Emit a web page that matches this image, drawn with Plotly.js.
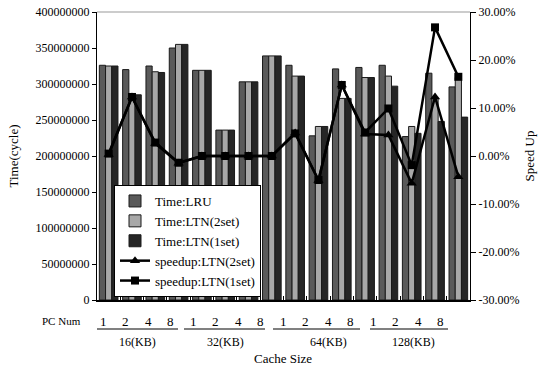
<!DOCTYPE html>
<html><head><meta charset="utf-8">
<script src="https://cdn.plot.ly/plotly-3.0.1.min.js"></script>
<style>body{margin:0;background:#fff}#chart{width:544px;height:368px}</style>
</head><body><div id="chart"></div>
<script>
// ---- data ----
const pcNum = ['1','2','4','8','1','2','4','8','1','2','4','8','1','2','4','8'];
const cacheSizes = ['16(KB)','32(KB)','64(KB)','128(KB)'];
const timeLRU  = [326e6,320e6,325e6,350e6,319e6,236e6,303e6,339e6,326e6,228e6,321e6,323e6,326e6,227e6,315e6,296e6];
const timeLTN2 = [325e6,285e6,317e6,355e6,319e6,236e6,303e6,339e6,311e6,241e6,280e6,309e6,311e6,241e6,280e6,309e6];
const timeLTN1 = [325e6,285e6,316e6,355e6,319e6,236e6,303e6,339e6,311e6,241e6,280e6,309e6,297e6,231.5e6,248e6,254e6];
const speedLTN2 = [0.003,0.123,0.026,-0.015,0,0,0,0,0.048,-0.051,0.148,0.046,0.044,-0.057,0.123,-0.043];
const speedLTN1 = [0.005,0.123,0.028,-0.014,0,0,0,0,0.047,-0.050,0.148,0.049,0.099,-0.019,0.268,0.165];
const pctTickVals = [-0.3,-0.2,-0.1,0,0.1,0.2,0.3];
const pctTickText = ['-30.00%','-20.00%','-10.00%','0.00%','10.00%','20.00%','30.00%'];

// ---- layout helpers (plot area in pixels) ----
const L = 97, R = 470, T = 12, B = 300;
const W = 544, H = 368;
const pxX = p => (p - L) / (R - L);
const pxY = p => (B - p) / (B - T);

const idx = timeLRU.map((_, i) => i);
const FAM = '"Times New Roman", "Liberation Serif", "DejaVu Serif", serif';
const F = size => ({family: FAM, size: size, color: '#000'});

const barLine = {color: '#1a1a1a', width: 1};
const traces = [
  {type:'bar', name:'Time:LRU', x: idx, y: timeLRU, marker:{color:'#5a5a5a', line: barLine}},
  {type:'bar', name:'Time:LTN(2set)', x: idx, y: timeLTN2, marker:{color:'#a8a8a8', line: barLine}},
  {type:'bar', name:'Time:LTN(1set)', x: idx, y: timeLTN1, marker:{color:'#262626', line: barLine}},
  {type:'scatter', mode:'lines+markers', name:'speedup:LTN(2set)', x: idx, y: speedLTN2, yaxis:'y2',
   line:{color:'#000', width:2.5}, marker:{symbol:'triangle-up', size:9, color:'#000'}},
  {type:'scatter', mode:'lines+markers', name:'speedup:LTN(1set)', x: idx, y: speedLTN1, yaxis:'y2',
   line:{color:'#000', width:2.5}, marker:{symbol:'square', size:8, color:'#000'}}
];

// x-axis labels (two levels)
const annotations = [];
pcNum.forEach((t, i) => annotations.push({
  text: t, xref:'paper', yref:'paper', x: pxX(103 + 22.5 * i), y: pxY(321),
  showarrow:false, xanchor:'center', yanchor:'middle', font: F(13)
}));
annotations.push({text:'PC Num', xref:'paper', yref:'paper', x: pxX(61), y: pxY(321),
  showarrow:false, xanchor:'center', yanchor:'middle', font: F(11)});
const groupLabelX = [137, 225, 328, 413];
cacheSizes.forEach((t, g) => annotations.push({
  text: t, xref:'paper', yref:'paper', x: pxX(groupLabelX[g]), y: pxY(342),
  showarrow:false, xanchor:'center', yanchor:'middle', font: F(12)
}));
annotations.push({text:'Cache Size', xref:'paper', yref:'paper', x: pxX(283), y: pxY(358),
  showarrow:false, xanchor:'center', yanchor:'middle', font: F(13)});

const groupLines = [[97,178],[184,265],[273,360],[370,448]];
const shapes = groupLines.map(([a, b]) => ({
  type:'line', xref:'paper', yref:'paper', x0: pxX(a), x1: pxX(b), y0: pxY(329), y1: pxY(329),
  line:{color:'#808080', width:2}
}));
shapes.push({type:'line', xref:'paper', yref:'paper', x0:0, x1:1, y0:1, y1:1, line:{color:'#999', width:1}});

const boundaries = idx.slice(0, 15).map(i => i + 0.5);

const layout = {
  width: W, height: H,
  margin: {l: L, r: W - R, t: T, b: H - B, pad: 0},
  paper_bgcolor:'#fff', plot_bgcolor:'#fff',
  font: F(12),
  barmode:'group', bargap: 0.2, bargroupgap: 0,
  showlegend: true,
  legend: {x: pxX(114), y: pxY(185), xanchor:'left', yanchor:'top',
    bgcolor:'#fff', bordercolor:'#000', borderwidth:1, font: F(13),
    traceorder:'normal', tracegroupgap: 0},
  xaxis: {range:[-0.5, 15.5], tickmode:'array', tickvals: boundaries, ticks:'inside', ticklen:4,
    tickcolor:'#000', showticklabels:false, showline:true, linecolor:'#000', linewidth:1.5,
    showgrid:false, zeroline:false, fixedrange:true},
  yaxis: {range:[0, 4e8], dtick:5e7, tickformat:'d', ticks:'outside', ticklen:4, tickcolor:'#000',
    showline:true, linecolor:'#000', linewidth:1, showgrid:false, zeroline:false,
    tickfont: F(12),
    title:{text:'Time(cycle)', font: F(13), standoff: 14}},
  yaxis2: {overlaying:'y', side:'right', range:[-0.3, 0.3], tickmode:'array',
    tickvals: pctTickVals, ticktext: pctTickText, ticks:'outside', ticklen:5, tickcolor:'#000',
    showline:true, linecolor:'#000', linewidth:1, showgrid:false, zeroline:false,
    tickfont: F(12),
    title:{text:'Speed Up', font: F(13), standoff: 6}},
  annotations, shapes
};

Plotly.newPlot('chart', traces, layout, {displayModeBar:false, staticPlot:true});
</script>
</body></html>
